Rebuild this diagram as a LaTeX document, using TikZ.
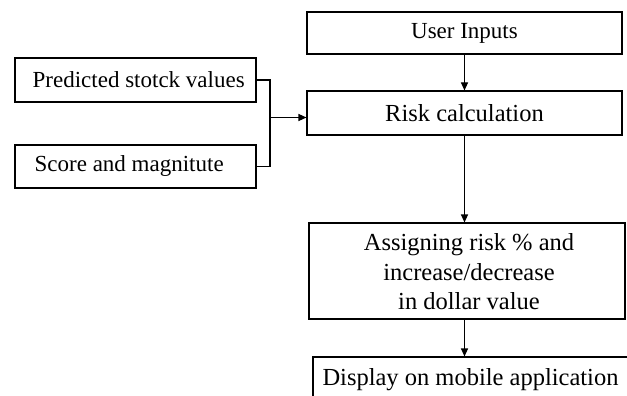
\documentclass[tikz,border=0pt]{standalone}
\usepackage{fontspec}
\setmainfont{Liberation Serif}
\usetikzlibrary{arrows.meta,calc}
\begin{document}
\begin{tikzpicture}[x=1pt,y=-1pt,
  box/.style={draw, line width=1.1pt, inner sep=0pt},
  link/.style={line width=1.1pt},
  flow/.style={link, -{Triangle[length=8pt,width=7pt]}},
  small/.style={font=\fontsize{23}{28}\selectfont, inner sep=0pt},
  big/.style={font=\fontsize{24.5}{29.5}\selectfont, inner sep=0pt, align=center}]
  \useasboundingbox (0,0) rectangle (627,396);
  \clip (0,0) rectangle (627,396);

  % main column
  \node[box, minimum width=315pt, minimum height=42pt] (user) at (464.5,33)
    {\fontsize{23}{28}\selectfont User Inputs};
  \node[box, minimum width=315pt, minimum height=44pt] (risk) at (464.5,113)
    {\fontsize{24.5}{29.5}\selectfont Risk calculation};
  \node[box, minimum width=316pt, minimum height=96pt] (assign) at (467,271) {};
  \node[big] (assigntxt) at (469,272)
    {Assigning risk \% and\\increase/decrease\\in dollar value};
  \node[box, minimum width=324pt, minimum height=46pt] (display) at (475,380) {};
  \node[big, anchor=base] (displaytxt) at (470.5,385) {Display on mobile application};

  % inputs on the left
  \node[box, minimum width=241pt, minimum height=44pt] (pred) at (135.5,80) {};
  \node[small, anchor=west] (predtxt) at ([xshift=18pt]pred.west) {Predicted stotck values};
  \node[box, minimum width=241pt, minimum height=43pt] (score) at (135.5,166.5) {};
  \node[small, anchor=west] (scoretxt) at ([xshift=20pt]score.west) {Score and magnitute};

  % connectors
  \coordinate (join) at (270,117.5);
  \draw[link] (pred.east) -| (join) |- (score.east);
  \draw[flow] (join) -- (join -| risk.west);
  \draw[flow] (user.south) -- (risk.north);
  \draw[flow] (risk.south) -- (risk.south |- assign.north);
  \draw[flow] (risk.south |- assign.south) -- (risk.south |- display.north);
\end{tikzpicture}
\end{document}
